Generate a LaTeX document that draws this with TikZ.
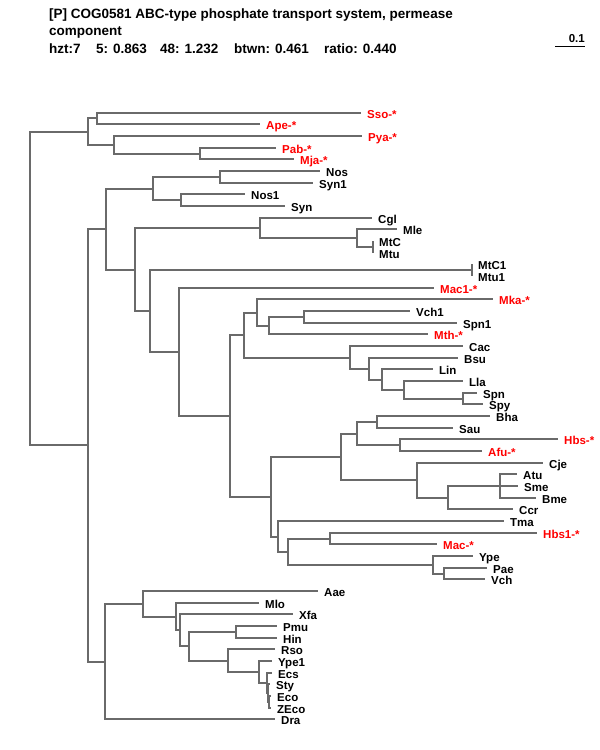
\documentclass[tikz,border=0pt]{standalone}
\usepackage{fontspec}
\setmainfont{Liberation Sans}
\begin{document}
\begin{tikzpicture}[x=1pt,y=-1pt,
  br/.style={draw=brgray,line width=1.5pt},
  lab/.style={anchor=base west,inner sep=0pt,font=\fontsize{11.5}{12}\selectfont\bfseries},
  ttl/.style={anchor=base west,inner sep=0pt,font=\fontsize{13.5}{14}\selectfont\bfseries}]
\definecolor{brgray}{HTML}{6A6A6A}
\definecolor{lred}{HTML}{FF0000}
\useasboundingbox (0,0) rectangle (600,750);
\newcommand{\lf}[5]{\coordinate (#1) at (#2,#3);
  \node[lab,text=#5] (t#1) at ([xshift=6pt,yshift=-5pt]#1) {#4};}
% title
\node[ttl] (title1) at (49,18) {[P] COG0581 ABC-type phosphate transport system, permease};
\node[ttl] (title2) at (49,35.5) {component};
\node[ttl] (s1) at (49,53) {hzt:7};
\node[ttl] (s2) at (96,53) {5: 0.863};
\node[ttl] (s3) at (160,53) {48: 1.232};
\node[ttl] (s4) at (234,53) {btwn: 0.461};
\node[ttl] (s5) at (324,53) {ratio: 0.440};
% scale bar
\coordinate (sbA) at (555,46);
\coordinate (sbB) at (585,46);
\draw[black,line width=1pt] (sbA) -- (sbB);
\node[lab,anchor=base east] (sbl) at (585,42) {0.1};
% leaves
\lf{Sso}{361}{113}{Sso-*}{lred}
\lf{Ape}{260}{124}{Ape-*}{lred}
\lf{Pya}{362}{136}{Pya-*}{lred}
\lf{Pab}{276}{148}{Pab-*}{lred}
\lf{Mja}{294}{159}{Mja-*}{lred}
\lf{Nos}{320}{171}{Nos}{black}
\lf{SynA}{313}{183}{Syn1}{black}
\lf{NosA}{245}{194}{Nos1}{black}
\lf{Syn}{285}{206}{Syn}{black}
\lf{Cgl}{372}{218}{Cgl}{black}
\lf{Mle}{397}{229}{Mle}{black}
\lf{MtC}{373}{241}{MtC}{black}
\lf{Mtu}{373}{253}{Mtu}{black}
\lf{MtCA}{472}{264}{MtC1}{black}
\lf{MtuA}{472}{276}{Mtu1}{black}
\lf{MacA}{434}{288}{Mac1-*}{lred}
\lf{Mka}{493}{299}{Mka-*}{lred}
\lf{VchA}{410}{311}{Vch1}{black}
\lf{SpnA}{457}{323}{Spn1}{black}
\lf{Mth}{428}{334}{Mth-*}{lred}
\lf{Cac}{463}{346}{Cac}{black}
\lf{Bsu}{458}{358}{Bsu}{black}
\lf{Lin}{433}{369}{Lin}{black}
\lf{Lla}{463}{381}{Lla}{black}
\lf{Spn}{477}{393}{Spn}{black}
\lf{Spy}{483}{404}{Spy}{black}
\lf{Bha}{490}{416}{Bha}{black}
\lf{Sau}{453}{428}{Sau}{black}
\lf{Hbs}{558}{439}{Hbs-*}{lred}
\lf{Afu}{482}{451}{Afu-*}{lred}
\lf{Cje}{543}{463}{Cje}{black}
\lf{Atu}{517}{474}{Atu}{black}
\lf{Sme}{518}{486}{Sme}{black}
\lf{Bme}{536}{498}{Bme}{black}
\lf{Ccr}{513}{509}{Ccr}{black}
\lf{Tma}{504}{521}{Tma}{black}
\lf{HbsA}{537}{533}{Hbs1-*}{lred}
\lf{Mac}{437}{544}{Mac-*}{lred}
\lf{Ype}{473}{556}{Ype}{black}
\lf{Pae}{487}{568}{Pae}{black}
\lf{Vch}{485}{579}{Vch}{black}
\lf{Aae}{318}{591}{Aae}{black}
\lf{Mlo}{259}{603}{Mlo}{black}
\lf{Xfa}{293}{614}{Xfa}{black}
\lf{Pmu}{277}{626}{Pmu}{black}
\lf{Hin}{277}{638}{Hin}{black}
\lf{Rso}{275}{649}{Rso}{black}
\lf{YpeA}{272}{661}{Ype1}{black}
\lf{Ecs}{272}{673}{Ecs}{black}
\lf{Sty}{270}{684}{Sty}{black}
\lf{Eco}{271}{696}{Eco}{black}
\lf{ZEco}{271}{708}{ZEco}{black}
\lf{Dra}{275}{719}{Dra}{black}
% internal nodes
\coordinate (a1) at (97,118);
\coordinate (a2) at (200,154);
\coordinate (a3) at (114,145);
\coordinate (a4) at (88,132);
\coordinate (b1) at (220,177);
\coordinate (b2) at (181,200);
\coordinate (b3) at (153,189);
\coordinate (c1) at (373,247);
\coordinate (c2) at (357,238);
\coordinate (c3) at (260,228);
\coordinate (d1) at (472,270);
\coordinate (e1) at (304,317);
\coordinate (e2) at (269,326);
\coordinate (e3) at (257,313);
\coordinate (f1) at (463,399);
\coordinate (f2) at (404,390);
\coordinate (f3) at (382,380);
\coordinate (f4) at (369,369);
\coordinate (f5) at (350,358);
\coordinate (g1) at (244,335);
\coordinate (h1) at (377,422);
\coordinate (h2) at (400,445);
\coordinate (h3) at (357,434);
\coordinate (i1) at (500,486);
\coordinate (i2) at (448,498);
\coordinate (i3) at (417,480);
\coordinate (i4) at (341,457);
\coordinate (j1) at (330,539);
\coordinate (j2) at (444,574);
\coordinate (j3) at (433,565);
\coordinate (j4) at (288,552);
\coordinate (j5) at (278,537);
\coordinate (k1) at (271,497);
\coordinate (k2) at (230,416);
\coordinate (k3) at (179,352);
\coordinate (k4) at (150,311);
\coordinate (k5) at (135,270);
\coordinate (k6) at (106,229);
\coordinate (l1) at (236,632);
\coordinate (l2) at (269,702);
\coordinate (l3) at (268,693);
\coordinate (l4) at (267,683);
\coordinate (l5) at (259,672);
\coordinate (l6) at (228,661);
\coordinate (l7) at (189,646);
\coordinate (l8) at (180,630);
\coordinate (l9) at (176,617);
\coordinate (l10) at (143,604);
\coordinate (l11) at (105,662);
\coordinate (m1) at (88,445);
\coordinate (root) at (30,288);
% branches
\foreach \p/\c in {a1/Sso,a1/Ape,a2/Pab,a2/Mja,a3/Pya,a3/a2,a4/a1,a4/a3,
  b1/Nos,b1/SynA,b2/NosA,b2/Syn,b3/b1,b3/b2,
  c1/MtC,c1/Mtu,c2/Mle,c2/c1,c3/Cgl,c3/c2,d1/MtCA,d1/MtuA,
  e1/VchA,e1/SpnA,e2/e1,e2/Mth,e3/Mka,e3/e2,
  f1/Spn,f1/Spy,f2/Lla,f2/f1,f3/Lin,f3/f2,f4/Bsu,f4/f3,f5/Cac,f5/f4,g1/e3,g1/f5,
  h1/Bha,h1/Sau,h2/Hbs,h2/Afu,h3/h1,h3/h2,
  i1/Atu,i1/Sme,i1/Bme,i2/i1,i2/Ccr,i3/Cje,i3/i2,i4/h3,i4/i3,
  j1/HbsA,j1/Mac,j2/Pae,j2/Vch,j3/Ype,j3/j2,j4/j1,j4/j3,j5/Tma,j5/j4,
  k1/i4,k1/j5,k2/g1,k2/k1,k3/MacA,k3/k2,k4/d1,k4/k3,k5/c3,k5/k4,k6/b3,k6/k5,
  l1/Pmu,l1/Hin,l2/Eco,l2/ZEco,l3/Sty,l3/l2,l4/Ecs,l4/l3,l5/YpeA,l5/l4,
  l6/Rso,l6/l5,l7/l1,l7/l6,l8/Xfa,l8/l7,l9/Mlo,l9/l8,l10/Aae,l10/l9,l11/l10,l11/Dra,
  m1/k6,m1/l11,root/a4,root/m1}
  \draw[br] (\p) |- (\c);
\end{tikzpicture}
\end{document}
